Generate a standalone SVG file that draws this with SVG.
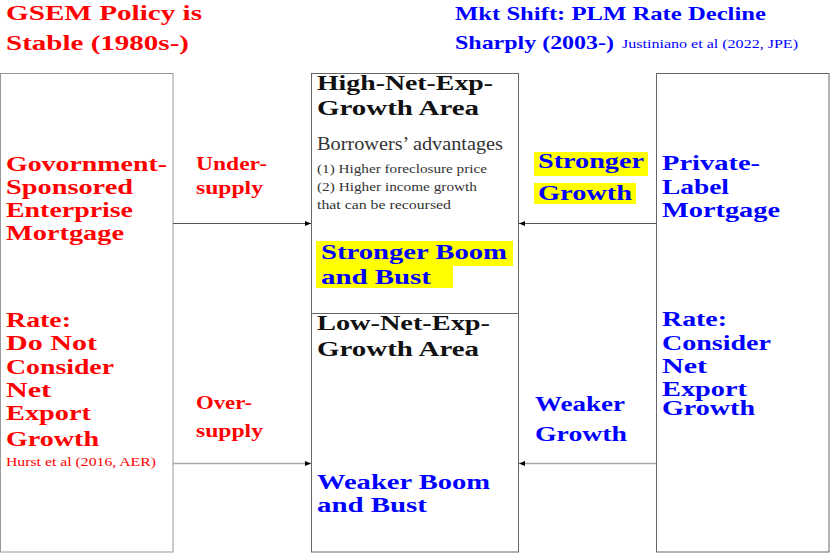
<svg xmlns="http://www.w3.org/2000/svg" width="830" height="553" viewBox="0 0 830 553">
<defs>
<style>
text{font-family:"Liberation Serif","Times New Roman",serif}
.b{font-weight:bold}
.red{fill:#ff0000}
.blue{fill:#0000ff}
.blk{fill:#111}
.gry{fill:#333}
.box{fill:#fff;stroke:#666;stroke-width:1}
.hl{fill:#ffff00}
</style>
<marker id="ah" viewBox="0 0 6 6" refX="6" refY="3" markerWidth="6" markerHeight="6" markerUnits="userSpaceOnUse" orient="auto">
<path d="M0,0.5 L6,3 L0,5.5 Z" fill="#000"/>
</marker>
</defs>
<rect width="830" height="553" fill="#fff"/>

<g id="title-left" lengthAdjust="spacingAndGlyphs">
<text class="b red" font-size="22" x="6" y="20" textLength="196" lengthAdjust="spacingAndGlyphs">GSEM Policy is</text>
<text class="b red" font-size="22" x="6" y="50" textLength="183" lengthAdjust="spacingAndGlyphs">Stable (1980s-)</text>
</g>
<g id="title-right">
<text class="b blue" font-size="19.5" x="455" y="20" textLength="311" lengthAdjust="spacingAndGlyphs">Mkt Shift: PLM Rate Decline</text>
<text class="b blue" font-size="19.5" x="455" y="49" textLength="159" lengthAdjust="spacingAndGlyphs">Sharply (2003-)</text>
<text class="blue" font-size="12.5" x="622" y="48" textLength="176" lengthAdjust="spacingAndGlyphs">Justiniano et al (2022, JPE)</text>
</g>

<g id="node-gse">
<rect x="0.5" y="73.5" width="172.5" height="478.5" fill="#fff" stroke="#999"/>
<text class="b red" font-size="21.5" x="6" y="171" textLength="161" lengthAdjust="spacingAndGlyphs">Govornment-</text>
<text class="b red" font-size="21.5" x="6" y="194" textLength="127" lengthAdjust="spacingAndGlyphs">Sponsored</text>
<text class="b red" font-size="21.5" x="6" y="217" textLength="127" lengthAdjust="spacingAndGlyphs">Enterprise</text>
<text class="b red" font-size="21.5" x="6" y="240" textLength="118" lengthAdjust="spacingAndGlyphs">Mortgage</text>
<text class="b red" font-size="21.5" x="6" y="327" textLength="65" lengthAdjust="spacingAndGlyphs">Rate:</text>
<text class="b red" font-size="21.5" x="6" y="350" textLength="91" lengthAdjust="spacingAndGlyphs">Do Not</text>
<text class="b red" font-size="21.5" x="6" y="374" textLength="108" lengthAdjust="spacingAndGlyphs">Consider</text>
<text class="b red" font-size="21.5" x="6" y="397" textLength="45" lengthAdjust="spacingAndGlyphs">Net</text>
<text class="b red" font-size="21.5" x="6" y="420" textLength="85" lengthAdjust="spacingAndGlyphs">Export</text>
<text class="b red" font-size="21.5" x="6" y="446" textLength="93" lengthAdjust="spacingAndGlyphs">Growth</text>
<text class="red" font-size="12.5" x="6" y="466" textLength="150" lengthAdjust="spacingAndGlyphs">Hurst et al (2016, AER)</text>
</g>

<g id="node-areas">
<rect class="box" x="311.5" y="73.5" width="207" height="478.5"/>
<line x1="311.5" y1="313.5" x2="518.5" y2="313.5" stroke="#666"/>
<text class="b blk" font-size="20" x="317" y="90" textLength="176" lengthAdjust="spacingAndGlyphs">High-Net-Exp-</text>
<text class="b blk" font-size="20" x="317" y="115" textLength="162" lengthAdjust="spacingAndGlyphs">Growth Area</text>
<text class="gry" font-size="18" x="317" y="150" textLength="186" lengthAdjust="spacingAndGlyphs">Borrowers’ advantages</text>
<text class="gry" font-size="13" x="317" y="173" textLength="170" lengthAdjust="spacingAndGlyphs">(1) Higher foreclosure price</text>
<text class="gry" font-size="13" x="317" y="191" textLength="160" lengthAdjust="spacingAndGlyphs">(2) Higher income growth</text>
<text class="gry" font-size="13" x="317" y="209" textLength="134" lengthAdjust="spacingAndGlyphs">that can be recoursed</text>
<rect class="hl" x="316" y="241" width="197" height="25"/>
<rect class="hl" x="316" y="266" width="137" height="22"/>
<text class="b blue" font-size="21.5" x="321" y="259" textLength="186" lengthAdjust="spacingAndGlyphs">Stronger Boom</text>
<text class="b blue" font-size="21.5" x="321" y="284" textLength="110" lengthAdjust="spacingAndGlyphs">and Bust</text>
<text class="b blk" font-size="20" x="317" y="330" textLength="173" lengthAdjust="spacingAndGlyphs">Low-Net-Exp-</text>
<text class="b blk" font-size="20" x="317" y="356" textLength="162" lengthAdjust="spacingAndGlyphs">Growth Area</text>
<text class="b blue" font-size="21.5" x="317" y="489" textLength="173" lengthAdjust="spacingAndGlyphs">Weaker Boom</text>
<text class="b blue" font-size="21.5" x="317" y="512" textLength="110" lengthAdjust="spacingAndGlyphs">and Bust</text>
</g>

<g id="node-plm">
<rect class="box" x="656.5" y="73.5" width="172.5" height="478.5"/>
<text class="b blue" font-size="21.5" x="662" y="170" textLength="98" lengthAdjust="spacingAndGlyphs">Private-</text>
<text class="b blue" font-size="21.5" x="662" y="194" textLength="67" lengthAdjust="spacingAndGlyphs">Label</text>
<text class="b blue" font-size="21.5" x="662" y="217" textLength="118" lengthAdjust="spacingAndGlyphs">Mortgage</text>
<text class="b blue" font-size="21.5" x="662" y="326" textLength="65" lengthAdjust="spacingAndGlyphs">Rate:</text>
<text class="b blue" font-size="21.5" x="662" y="350" textLength="109" lengthAdjust="spacingAndGlyphs">Consider</text>
<text class="b blue" font-size="21.5" x="662" y="373" textLength="45" lengthAdjust="spacingAndGlyphs">Net</text>
<text class="b blue" font-size="21.5" x="662" y="396" textLength="85" lengthAdjust="spacingAndGlyphs">Export</text>
<text class="b blue" font-size="21.5" x="662" y="415" textLength="93" lengthAdjust="spacingAndGlyphs">Growth</text>
</g>

<g id="connectors">
<line x1="173" y1="223.5" x2="311" y2="223.5" stroke="#555" marker-end="url(#ah)"/>
<line x1="173" y1="463.5" x2="311" y2="463.5" stroke="#aaa" stroke-width="1.3" marker-end="url(#ah)"/>
<line x1="656" y1="223.5" x2="519" y2="223.5" stroke="#555" marker-end="url(#ah)"/>
<line x1="656" y1="463.5" x2="519" y2="463.5" stroke="#aaa" stroke-width="1.3" marker-end="url(#ah)"/>
</g>

<g id="connector-labels">
<text class="b red" font-size="18" x="196" y="170" textLength="71" lengthAdjust="spacingAndGlyphs">Under-</text>
<text class="b red" font-size="18" x="196" y="194" textLength="67" lengthAdjust="spacingAndGlyphs">supply</text>
<text class="b red" font-size="18" x="196" y="409" textLength="56" lengthAdjust="spacingAndGlyphs">Over-</text>
<text class="b red" font-size="18" x="196" y="437" textLength="67" lengthAdjust="spacingAndGlyphs">supply</text>
<rect class="hl" x="534" y="152" width="114" height="24"/>
<rect class="hl" x="534" y="183" width="102" height="21"/>
<text class="b blue" font-size="21.5" x="538" y="168" textLength="106" lengthAdjust="spacingAndGlyphs">Stronger</text>
<text class="b blue" font-size="21.5" x="538" y="200" textLength="94" lengthAdjust="spacingAndGlyphs">Growth</text>
<text class="b blue" font-size="21.5" x="535" y="411" textLength="90" lengthAdjust="spacingAndGlyphs">Weaker</text>
<text class="b blue" font-size="21.5" x="535" y="441" textLength="92" lengthAdjust="spacingAndGlyphs">Growth</text>
</g>
</svg>
